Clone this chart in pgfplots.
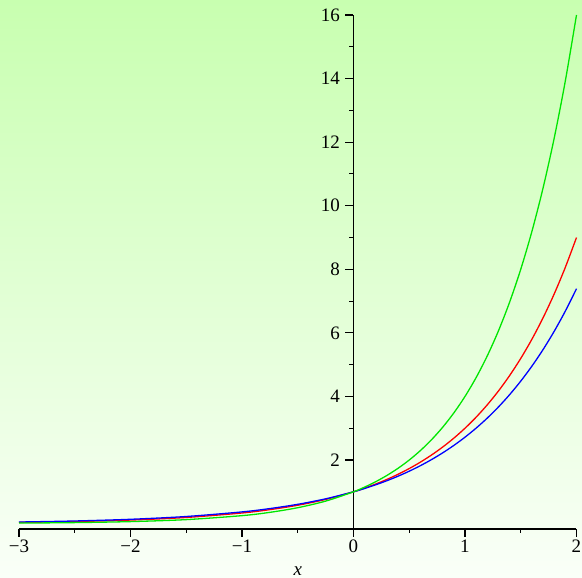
\documentclass[border=0pt]{standalone}
\usepackage{fontspec}
\setmainfont{Liberation Serif}
\usepackage{pgfplots}
\pgfplotsset{compat=1.18}
\definecolor{bgtop}{RGB}{200,255,176}
\definecolor{bgbot}{RGB}{250,255,248}
\definecolor{cgreen}{RGB}{0,230,0}
\begin{document}
\begin{tikzpicture}[font=\fontsize{19}{21}\selectfont]
\shade[top color=bgtop, bottom color=bgbot] (0,0) rectangle (582pt,578pt);
\begin{axis}[
  at={(19pt,49pt)}, anchor=south west,
  scale only axis, width=557.5pt, height=514pt,
  xmin=-3, xmax=2, ymin=-0.17, ymax=16,
  axis x line=bottom, axis y line=middle,
  axis line style={-, line width=1.2pt, black},
  xtick={-3,-2,-1,0,1,2},
  xticklabels={−3,−2,−1,0,1,2},
  minor xtick={-2.5,-1.5,-0.5,0.5,1.5},
  ytick={2,4,6,8,10,12,14,16},
  yticklabels={2,4,6,8,10,12,14,16},
  minor ytick={3,5,7,9,11,13,15},
  tick align=outside,
  major tick length=8pt, minor tick length=4pt,
  every tick/.style={black, line width=1.1pt},
  every tick label/.style={font=\fontsize{19}{21}\selectfont},
  xticklabel style={anchor=north, yshift=1pt},
  yticklabel style={anchor=east, xshift=-2pt},
  xlabel={\fontsize{19}{21}\selectfont\textit{x}},
  xlabel style={at={(axis cs:-0.5,-0.17)}, anchor=center, yshift=-42pt},
  clip=false,
]
\addplot[red, line width=1.3pt, smooth] coordinates {
(-3,0.0370) (-2.5,0.0642) (-2,0.1111) (-1.5,0.1925) (-1,0.3333) (-0.75,0.4387) (-0.5,0.5774) (-0.25,0.7598)
(0,1) (0.1,1.1161) (0.2,1.2457) (0.3,1.3904) (0.4,1.5518) (0.5,1.7321) (0.6,1.9332) (0.7,2.1577) (0.8,2.4082) (0.9,2.6879)
(1.0,3) (1.1,3.3483) (1.2,3.7372) (1.3,4.1712) (1.4,4.6555) (1.5,5.1962) (1.6,5.7995) (1.7,6.4730) (1.8,7.2247) (1.9,8.0636) (2.0,9)
};
\addplot[blue, line width=1.3pt, smooth] coordinates {
(-3,0.0498) (-2.5,0.0821) (-2,0.1353) (-1.5,0.2231) (-1,0.3679) (-0.75,0.4724) (-0.5,0.6065) (-0.25,0.7788)
(0,1) (0.1,1.1052) (0.2,1.2214) (0.3,1.3499) (0.4,1.4918) (0.5,1.6487) (0.6,1.8221) (0.7,2.0138) (0.8,2.2255) (0.9,2.4596)
(1.0,2.7183) (1.1,3.0042) (1.2,3.3201) (1.3,3.6693) (1.4,4.0552) (1.5,4.4817) (1.6,4.9530) (1.7,5.4739) (1.8,6.0496) (1.9,6.6859) (2.0,7.3891)
};
\addplot[cgreen, line width=1.3pt, smooth] coordinates {
(-3,0.015625) (-2.5,0.03125) (-2,0.0625) (-1.5,0.125) (-1,0.25) (-0.75,0.3536) (-0.5,0.5) (-0.25,0.7071)
(0,1) (0.1,1.1487) (0.2,1.3195) (0.3,1.5157) (0.4,1.7411) (0.5,2) (0.6,2.2974) (0.7,2.6390) (0.8,3.0314) (0.9,3.4822)
(1.0,4) (1.1,4.5948) (1.2,5.2780) (1.3,6.0629) (1.4,6.9644) (1.5,8) (1.6,9.1896) (1.7,10.5561) (1.8,12.1257) (1.9,13.9288) (2.0,16)
};
\end{axis}
\pgfresetboundingbox
\path (0,0) rectangle (582pt,578pt);
\end{tikzpicture}
\end{document}
